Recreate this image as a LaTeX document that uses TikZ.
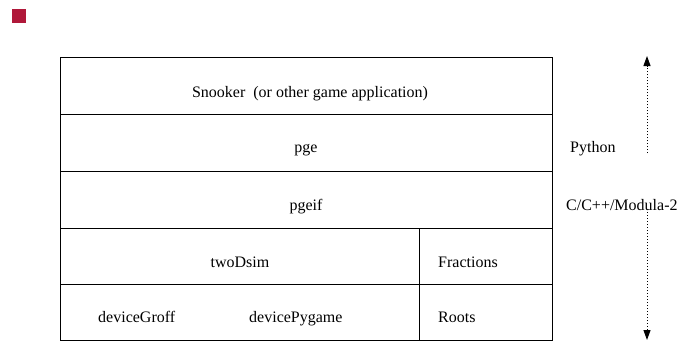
\documentclass[tikz,border=0pt]{standalone}
\usepackage{fontspec}
\setmainfont{Liberation Serif}
\usetikzlibrary{arrows.meta}
\definecolor{boxred}{HTML}{B0183A}
\begin{document}
\begin{tikzpicture}[x=1pt,y=-1pt,
  cell/.style={draw=black,line width=0.9pt,rectangle,inner sep=0pt,anchor=north west},
  lbl/.style={font=\fontsize{16}{19}\selectfont,inner sep=0pt},
  dotarrow/.style={dash pattern=on 1pt off 2pt,line width=1pt,-{Triangle[length=10pt,width=7pt]}}]
\useasboundingbox (0,0) rectangle (688,341);
\fill[boxred] (12,9) rectangle (26,23);
% table cells
\node[cell,minimum width=492pt,minimum height=57pt] (app) at (60,57) {};
\node[cell,minimum width=492pt,minimum height=57pt] (pge) at (60,114) {};
\node[cell,minimum width=492pt,minimum height=57pt] (pgeif) at (60,171) {};
\node[cell,minimum width=359pt,minimum height=56pt] (sim) at (60,228) {};
\node[cell,minimum width=133pt,minimum height=56pt] (frac) at (419,228) {};
\node[cell,minimum width=359pt,minimum height=56pt] (dev) at (60,284) {};
\node[cell,minimum width=133pt,minimum height=56pt] (roots) at (419,284) {};
% labels
\node[lbl,anchor=base] (tapp) at (310,97) {Snooker~ (or other game application)};
\node[lbl,anchor=base] (tpge) at (306,152) {pge};
\node[lbl,anchor=base] (tpgeif) at (306,210) {pgeif};
\node[lbl,anchor=base] (tsim) at (240,267) {twoDsim};
\node[lbl,anchor=base west] (tfrac) at (438,267) {Fractions};
\node[lbl,anchor=base west] (troots) at (438,322) {Roots};
\node[lbl,anchor=base west] (tgroff) at (98,322) {deviceGroff};
\node[lbl,anchor=base west] (tpyg) at (249,322) {devicePygame};
\node[lbl,anchor=base west] (tpy) at (570,152) {Python};
\node[lbl,anchor=base west] (tc) at (566,210) {C/C++/Modula-2};
% arrows
\coordinate (upstart) at (647,153);
\coordinate (upend) at (647,56);
\coordinate (downstart) at (647,212);
\coordinate (downend) at (647,340);
\draw[dotarrow] (upstart) -- (upend);
\draw[dotarrow] (downstart) -- (downend);
\end{tikzpicture}
\end{document}
